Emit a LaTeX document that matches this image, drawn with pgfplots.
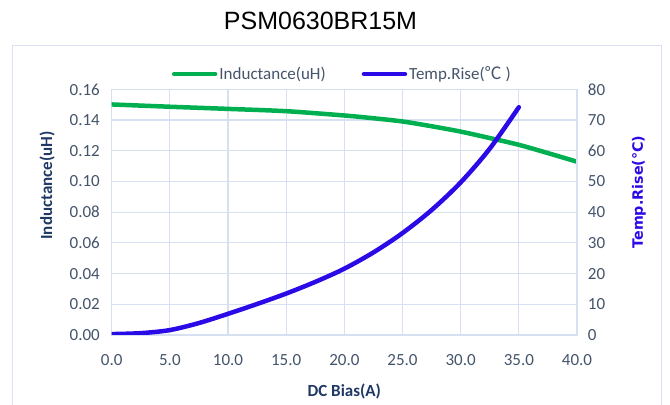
\documentclass[border=0pt]{standalone}
\usepackage{fontspec}
\setmainfont{Carlito}
\newfontfamily\titlefont{Liberation Sans}
\newfontfamily\dejavu{DejaVu Sans}
\newfontfamily\cjk{Noto Sans CJK SC}
\usepackage{pgfplots}
\usepackage{pgfplotstable}
\pgfplotsset{compat=1.18}

\definecolor{indgreen}{HTML}{00B050}
\definecolor{tempblue}{HTML}{2A0AE6}
\definecolor{gridc}{HTML}{D6E0F0}
\definecolor{framec}{HTML}{D9E1F2}
\definecolor{tickc}{HTML}{44546A}
\definecolor{navy}{HTML}{1F3864}
\newcommand\fs{\fontsize{17bp}{20bp}\selectfont}

% inductance (uH) vs DC bias (A)
\pgfplotstableread{
x     L
0     0.1502
5     0.1487
10    0.1473
15    0.1458
20    0.1430
22.5  0.1412
25    0.1391
27.5  0.1360
30    0.1325
32.5  0.1283
35    0.1239
37.5  0.1185
40    0.1129
}\inductance

% temperature rise (C) vs DC bias (A)
\pgfplotstableread{
x     T
0     0.3
2.5   0.6
5     1.6
7.5   3.9
10    6.9
12.5  10.1
15    13.5
17.5  17.3
20    21.6
22.5  26.9
25    33.2
27.5  40.7
30    49.7
32.5  60.7
35    74.2
}\temprise

\begin{document}
\begin{tikzpicture}
\useasboundingbox (-111.7bp,-70bp) rectangle (558.3bp,335bp);
\draw[framec, line width=1.2bp] (-99bp,-80bp) -- (-99bp,289.3bp) -- (550bp,289.3bp) -- (550bp,-80bp);
\node[font=\titlefont\fontsize{25bp}{30bp}\selectfont] at (208.8bp,314.5bp) {PSM0630BR15M};

\pgfplotsset{every axis/.append style={
    scale only axis, width=465.3bp, height=245.6bp,
    at={(0,0)}, anchor=south west,
    xmin=0, xmax=40,
    major tick length=0pt,
    axis line style={gridc, line width=1.2bp},
    tick label style={font=\fs, text=tickc},
    /pgf/number format/assume math mode=true,
}}

\begin{axis}[
    ymin=0, ymax=0.16,
    xtick={0,5,...,40},
    ytick={0,0.02,0.04,0.06,0.08,0.1,0.12,0.14,0.16},
    scaled y ticks=false,
    grid=major,
    major grid style={gridc, line width=1.2bp},
    xticklabel style={anchor=center, yshift=-25bp},
    x tick label style={/pgf/number format/.cd, fixed, fixed zerofill, precision=1},
    yticklabel style={anchor=east, inner sep=0pt, xshift=-11.7bp},
    y tick label style={/pgf/number format/.cd, fixed, fixed zerofill, precision=2},
    xlabel={DC Bias(A)},
    xlabel style={at={(axis description cs:0.5,-0.228)}, anchor=center, font=\fs\bfseries, text=navy},
    ylabel={Inductance(uH)},
    ylabel style={at={(axis description cs:-0.139,0.609)}, anchor=center, font=\fs\bfseries, text=navy},
]
\addplot[indgreen, line width=4.5bp, line cap=round, smooth] table[x=x, y=L] {\inductance};
\end{axis}

\begin{axis}[
    ymin=0, ymax=80,
    ytick={0,10,...,80},
    axis x line=none,
    axis y line*=right,
    yticklabel style={anchor=west, inner sep=0pt, xshift=10.7bp},
    ylabel={Temp.Rise(°C)},
    ylabel style={at={(axis description cs:1.133,0.582)}, anchor=center,
        font=\dejavu\fontsize{14.3bp}{17bp}\selectfont\bfseries, text=tempblue},
    legend columns=2,
    legend style={at={(0.4956,1.0627)}, anchor=center, draw=none, fill=none,
        font=\fs, text=tickc,
        /tikz/every even column/.append style={column sep=34bp}},
    legend image code/.code={\draw[#1] (0bp,0bp) -- (41bp,0bp);},
]
\addlegendimage{indgreen, line width=4.5bp, line cap=round}
\addlegendentry{Inductance(uH)}
\addplot[tempblue, line width=4.5bp, line cap=round, smooth] table[x=x, y=T] {\temprise};
\addlegendentry{Temp.Rise({\cjk ℃} )}
\end{axis}
\end{tikzpicture}
\end{document}
